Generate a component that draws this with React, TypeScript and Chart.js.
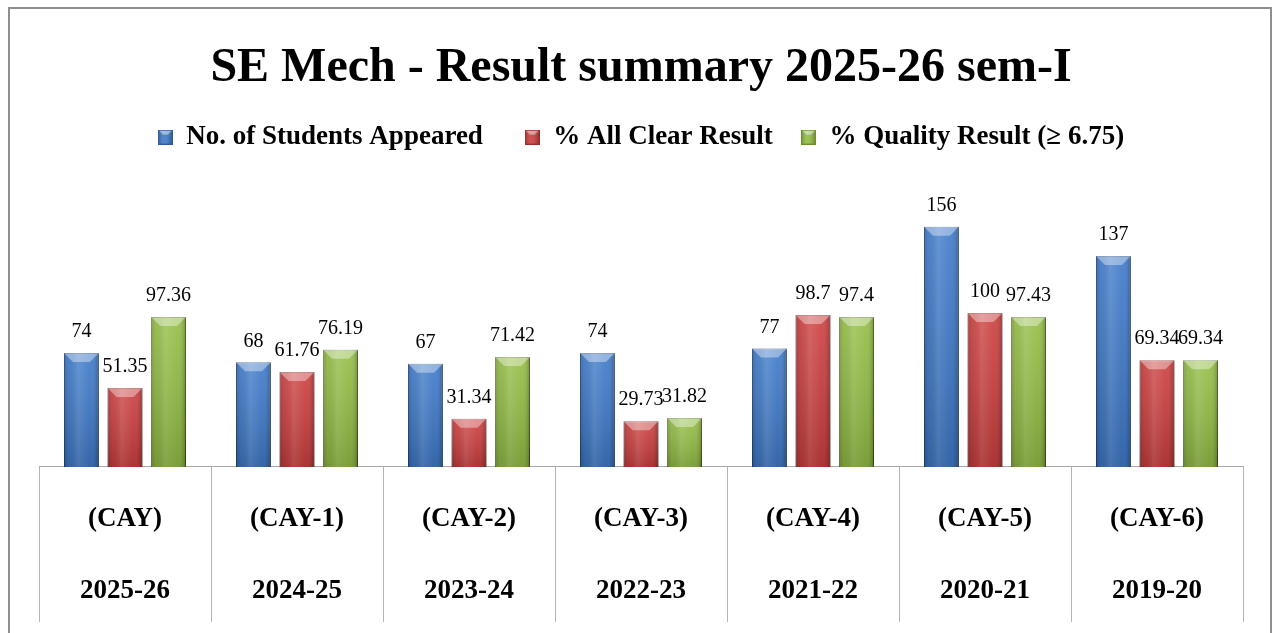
import React, { useEffect, useRef } from 'react';
import { Chart, registerables } from 'chart.js';

Chart.register(...registerables);

const CHART_TITLE = 'SE Mech - Result summary 2025-26 sem-I';
const CATEGORY_CODES = ['(CAY)', '(CAY-1)', '(CAY-2)', '(CAY-3)', '(CAY-4)', '(CAY-5)', '(CAY-6)'];
const ACADEMIC_YEARS = ['2025-26', '2024-25', '2023-24', '2022-23', '2021-22', '2020-21', '2019-20'];
const SERIES_NAMES = ['No. of Students Appeared', '% All Clear Result', '% Quality Result (\u2265 6.75)'];
const STUDENTS_APPEARED = [74, 68, 67, 74, 77, 156, 137];
const ALL_CLEAR_PERCENT = [51.35, 61.76, 31.34, 29.73, 98.7, 100, 69.34];
const QUALITY_PERCENT = [97.36, 76.19, 71.42, 31.82, 97.4, 97.43, 69.34];
const Y_MAX = 199;

const FILL_COLORS = ['#3d79c9', '#cc3d3d', '#93bd43'];
const BORDER_COLORS = ['#2b5a9a', '#9a2b2b', '#6c8e2e'];
const SERIF = '"Liberation Serif", "Times New Roman", serif';

function makeMarker(fill: string, border: string): HTMLCanvasElement {
  const c = document.createElement('canvas');
  c.width = 15;
  c.height = 15;
  const g = c.getContext('2d')!;
  g.fillStyle = fill;
  g.fillRect(0, 0, 15, 15);
  const hg = g.createLinearGradient(0, 0, 15, 0);
  hg.addColorStop(0, 'rgba(0,0,0,0.25)');
  hg.addColorStop(0.4, 'rgba(255,255,255,0.1)');
  hg.addColorStop(1, 'rgba(0,0,0,0.3)');
  g.fillStyle = hg;
  g.fillRect(0, 0, 15, 15);
  g.beginPath();
  g.moveTo(0, 0);
  g.lineTo(15, 0);
  g.lineTo(10, 5);
  g.lineTo(5, 5);
  g.closePath();
  g.fillStyle = 'rgba(255,255,255,0.45)';
  g.fill();
  g.strokeStyle = border;
  g.lineWidth = 1;
  g.strokeRect(0.5, 0.5, 14, 14);
  return c;
}

// vertical separators of the category "table" below the axis, taken from the x scale
const categoryGridPlugin = {
  id: 'categoryGrid',
  afterDraw(chart: any) {
    const xs = chart.scales.x;
    const n = chart.data.labels.length;
    if (!xs || n < 1) return;
    const half = n > 1 ? (xs.getPixelForTick(1) - xs.getPixelForTick(0)) / 2 : xs.width / 2;
    const ctx = chart.ctx;
    ctx.save();
    ctx.strokeStyle = '#b3b3b3';
    ctx.lineWidth = 1;
    ctx.beginPath();
    for (let i = 0; i <= n; i++) {
      const px = i < n ? xs.getPixelForTick(i) - half : xs.getPixelForTick(n - 1) + half;
      const ax = Math.round(px) + 0.5;
      ctx.moveTo(ax, xs.top);
      ctx.lineTo(ax, xs.top + 155);
    }
    ctx.stroke();
    ctx.restore();
  },
};

const barStylePlugin = {
  id: 'barStyle',
  beforeDatasetsDraw(chart: any) {
    const ctx = chart.ctx;
    ctx.save();
    ctx.shadowColor = 'rgba(0,0,0,0.28)';
    ctx.shadowBlur = 5;
    ctx.shadowOffsetX = 2;
    ctx.shadowOffsetY = 1;
  },
  afterDatasetsDraw(chart: any) {
    const ctx = chart.ctx;
    ctx.restore();
    chart.data.datasets.forEach((ds: any, di: number) => {
      const meta = chart.getDatasetMeta(di);
      meta.data.forEach((el: any) => {
        const { x, y, base, width } = el.getProps(['x', 'y', 'base', 'width'], true);
        const l = x - width / 2;
        const r = x + width / 2;
        const t = Math.min(y, base);
        const b = Math.max(y, base);
        const h = b - t;
        ctx.save();
        const hg = ctx.createLinearGradient(l, 0, r, 0);
        hg.addColorStop(0, 'rgba(0,0,0,0.22)');
        hg.addColorStop(0.12, 'rgba(0,0,0,0.04)');
        hg.addColorStop(0.4, 'rgba(255,255,255,0.12)');
        hg.addColorStop(0.75, 'rgba(255,255,255,0.0)');
        hg.addColorStop(0.9, 'rgba(0,0,0,0.08)');
        hg.addColorStop(1, 'rgba(0,0,0,0.3)');
        ctx.fillStyle = hg;
        ctx.fillRect(l, t, width, h);
        const vg = ctx.createLinearGradient(0, t, 0, b);
        vg.addColorStop(0, 'rgba(255,255,255,0.1)');
        vg.addColorStop(1, 'rgba(0,0,0,0.16)');
        ctx.fillStyle = vg;
        ctx.fillRect(l, t, width, h);
        const bv = Math.min(9, h / 2, width / 3);
        ctx.beginPath();
        ctx.moveTo(l, t);
        ctx.lineTo(r, t);
        ctx.lineTo(r - bv, t + bv);
        ctx.lineTo(l + bv, t + bv);
        ctx.closePath();
        ctx.fillStyle = 'rgba(255,255,255,0.38)';
        ctx.fill();
        ctx.restore();
      });
    });
    ctx.save();
    ctx.font = '20px ' + SERIF;
    ctx.fillStyle = '#000';
    ctx.textAlign = 'center';
    ctx.textBaseline = 'middle';
    chart.data.datasets.forEach((ds: any, di: number) => {
      const meta = chart.getDatasetMeta(di);
      meta.data.forEach((el: any, i: number) => {
        const { x, y } = el.getProps(['x', 'y'], true);
        ctx.fillText(String(ds.data[i]), x, y - 21);
      });
    });
    ctx.restore();
  },
};

export default function App() {
  const canvasRef = useRef<HTMLCanvasElement | null>(null);

  useEffect(() => {
    const canvas = canvasRef.current;
    if (!canvas) return;
    const markers = FILL_COLORS.map((c, i) => makeMarker(c, BORDER_COLORS[i]));
    const seriesValues = [STUDENTS_APPEARED, ALL_CLEAR_PERCENT, QUALITY_PERCENT];
    const legendSpacers = ['     ', '   ', ''];
    const chart = new Chart(canvas, {
      type: 'bar',
      data: {
        labels: CATEGORY_CODES.map((c, i) => [c, ACADEMIC_YEARS[i]]),
        datasets: SERIES_NAMES.map((name, i) => ({
          label: name,
          data: seriesValues[i],
          backgroundColor: FILL_COLORS[i],
          borderColor: BORDER_COLORS[i],
          borderWidth: 1,
          categoryPercentage: 0.76,
          barPercentage: 0.8,
        })),
      },
      options: {
        responsive: false,
        devicePixelRatio: 1,
        animation: false,
        layout: { padding: { left: 39, right: 31, top: 0, bottom: -10 } },
        plugins: {
          title: {
            display: true,
            text: CHART_TITLE,
            color: '#000',
            font: { family: SERIF, size: 48, weight: 'bold', lineHeight: 1.2 },
            padding: { top: 40, bottom: 18 },
          },
          legend: {
            display: true,
            position: 'top',
            labels: {
              color: '#000',
              font: { family: SERIF, size: 27, weight: 'bold' },
              usePointStyle: true,
              boxWidth: 15,
              boxHeight: 15,
              padding: 8,
              generateLabels: (ch: any) =>
                ch.data.datasets.map((ds: any, i: number) => ({
                  text: ds.label + legendSpacers[i],
                  fillStyle: FILL_COLORS[i],
                  strokeStyle: BORDER_COLORS[i],
                  lineWidth: 0,
                  pointStyle: markers[i],
                  datasetIndex: i,
                  hidden: false,
                  fontColor: '#000',
                })),
            },
          },
          tooltip: { enabled: false },
        },
        scales: {
          x: {
            grid: {
              display: false,
              drawOnChartArea: false,
              drawTicks: false,
            },
            border: { display: true, color: '#a8a8a8', width: 1 },
            ticks: {
              color: '#000',
              font: { family: SERIF, size: 27, weight: 'bold', lineHeight: 2.667 },
              padding: 16,
              maxRotation: 0,
              autoSkip: false,
            },
          },
          y: {
            display: false,
            min: 0,
            max: Y_MAX,
          },
        },
      },
      plugins: [barStylePlugin, categoryGridPlugin],
    });
    return () => chart.destroy();
  }, []);

  return (
    <div
      style={{
        position: 'fixed',
        left: 0,
        top: 0,
        width: 1274,
        height: 633,
        overflow: 'hidden',
        background: '#fff',
      }}
    >
      <div
        style={{
          position: 'absolute',
          left: 8,
          top: 7,
          width: 1264,
          height: 700,
          boxSizing: 'border-box',
          border: '2px solid #8e8e8e',
        }}
      />
      <canvas
        ref={canvasRef}
        width={1274}
        height={633}
        style={{ position: 'absolute', left: 0, top: 0, width: 1274, height: 633, display: 'block' }}
      />
    </div>
  );
}
